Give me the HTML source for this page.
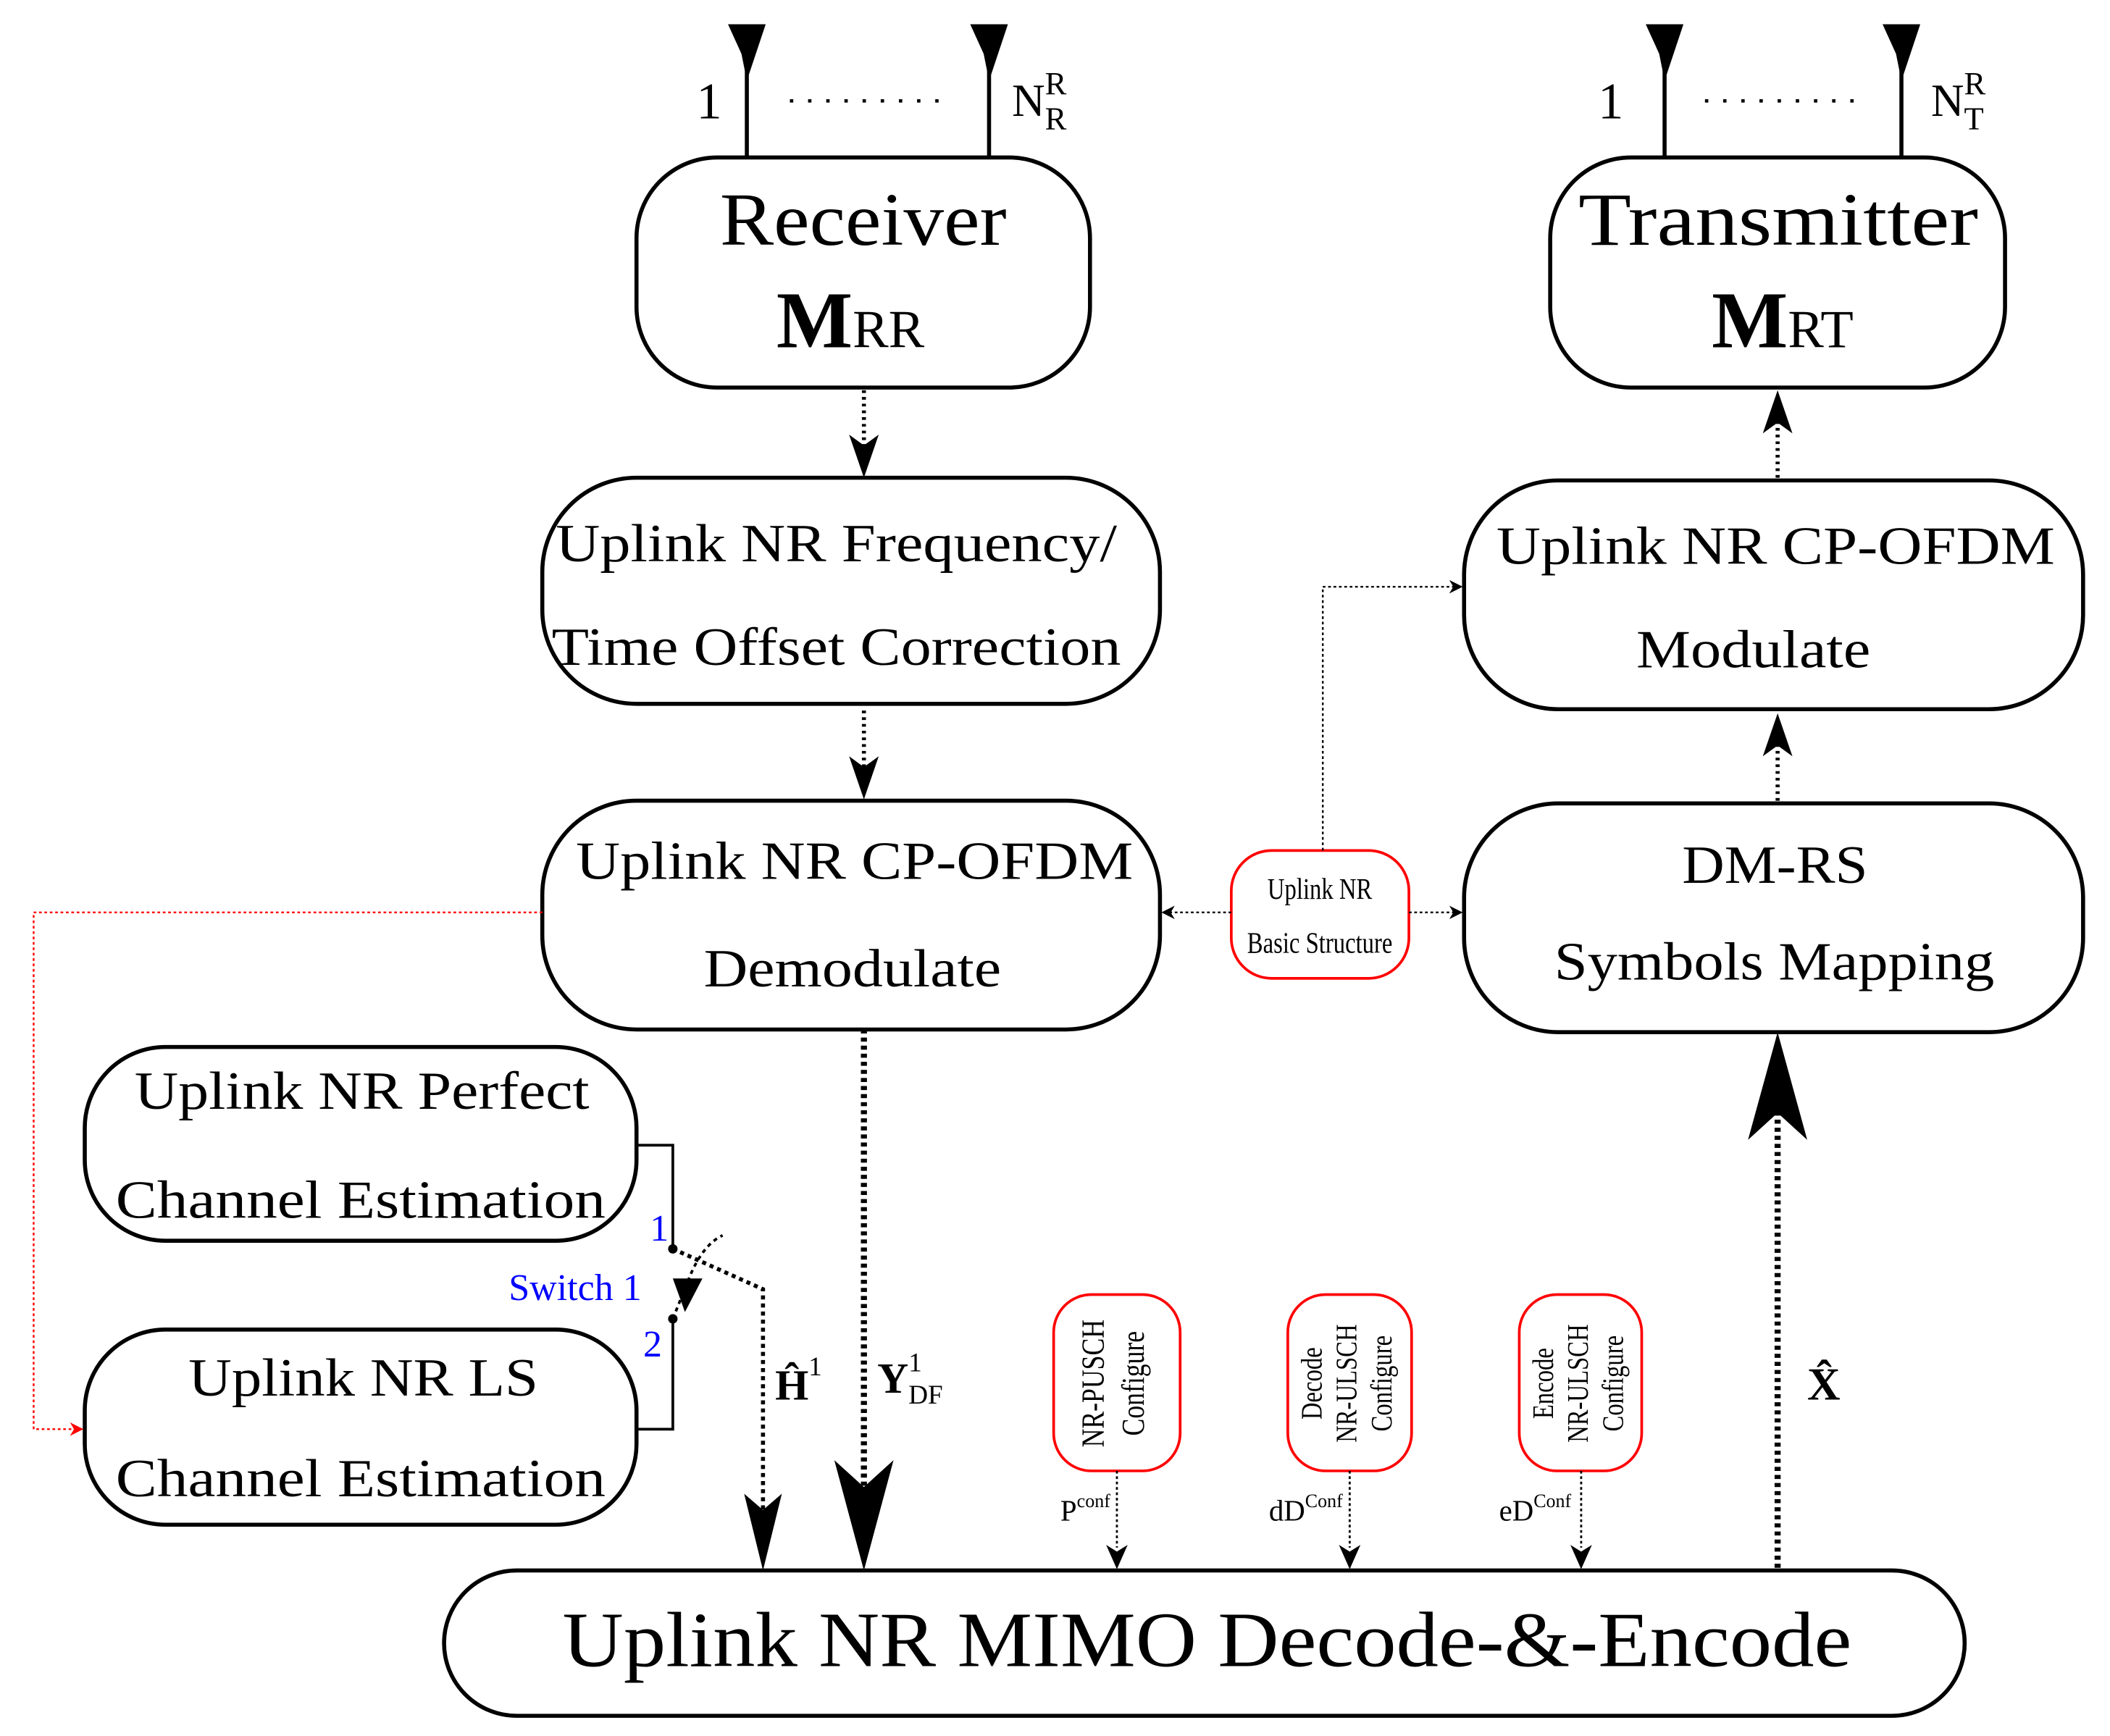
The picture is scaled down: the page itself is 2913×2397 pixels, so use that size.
<!DOCTYPE html>
<html><head><meta charset="utf-8"><style>
html,body{margin:0;padding:0;background:#fff;}
svg{display:block;}
text{font-family:"Liberation Serif",serif;}
</style></head><body>
<svg width="2913" height="2397" viewBox="0 0 1568 1290" preserveAspectRatio="none" xmlns="http://www.w3.org/2000/svg">
<defs>
<marker id="ah" markerWidth="10" markerHeight="10" refX="9" refY="5" orient="auto" markerUnits="userSpaceOnUse">
<path d="M0,0 L10,5 L0,10 L3,5 Z" fill="#000"/></marker>
<marker id="ahr" markerWidth="10" markerHeight="10" refX="9" refY="5" orient="auto" markerUnits="userSpaceOnUse">
<path d="M0,0 L10,5 L0,10 L3,5 Z" fill="red"/></marker>
</defs>
<g fill="none" stroke="#000" stroke-width="3">
<line x1="555" y1="25" x2="555" y2="117"/><line x1="735" y1="25" x2="735" y2="117"/>
<line x1="1237" y1="25" x2="1237" y2="117"/><line x1="1413" y1="25" x2="1413" y2="117"/>
<rect x="473" y="117" width="337" height="171" rx="60"/>
<rect x="1152" y="117" width="338" height="171" rx="60"/>
<rect x="403" y="355" width="459" height="168" rx="70"/>
<rect x="403" y="595" width="459" height="170" rx="70"/>
<rect x="1088" y="357" width="460" height="170" rx="70"/>
<rect x="1088" y="597" width="460" height="170" rx="70"/>
<rect x="63" y="778" width="410" height="144" rx="60"/>
<rect x="63" y="988" width="410" height="145" rx="60"/>
<rect x="330" y="1167" width="1130" height="108" rx="54"/>
<polyline points="473,851 500,851 500,928" stroke-width="2"/>
<polyline points="473,1062 500,1062 500,980" stroke-width="2"/>
</g>
<g fill="#000">
<path d="M541,18 L569,18 L555,60 L551,40 Z"/><path d="M721,18 L749,18 L735,60 L731,40 Z"/>
<path d="M1223,18 L1251,18 L1237,60 L1233,40 Z"/><path d="M1399,18 L1427,18 L1413,60 L1409,40 Z"/>
<circle cx="500" cy="928" r="3.5"/><circle cx="500" cy="980" r="3.5"/>
</g>
<g stroke="#000" stroke-width="2.5" stroke-dasharray="2.5,11" fill="none">
<line x1="587" y1="75" x2="708" y2="75"/><line x1="1267" y1="75" x2="1388" y2="75"/>
</g>
<g stroke="#000" stroke-width="3" stroke-dasharray="2,3" fill="none">
<line x1="642" y1="290" x2="642" y2="340"/>
<line x1="642" y1="528" x2="642" y2="580"/>
<line x1="1321" y1="595" x2="1321" y2="545"/>
<line x1="1321" y1="355" x2="1321" y2="305"/>
</g>
<g fill="#000">
<path d="M631,323 L642,355 L653,323 L642,331 Z"/>
<path d="M631,562 L642,594 L653,562 L642,570 Z"/>
<path d="M1310,562 L1321,530 L1332,562 L1321,554 Z"/>
<path d="M1310,322 L1321,290 L1332,322 L1321,314 Z"/>
</g>
<rect x="915" y="632" width="132" height="95" rx="30" fill="#fff" stroke="red" stroke-width="2"/>
<g stroke="#000" stroke-width="1.3" stroke-dasharray="2,2" fill="none">
<polyline points="983,632 983,436 1086,436" marker-end="url(#ah)"/>
<line x1="915" y1="678" x2="864" y2="678" marker-end="url(#ah)"/>
<line x1="1047" y1="678" x2="1086" y2="678" marker-end="url(#ah)"/>
</g>
<polyline points="403,678 25,678 25,1062 61,1062" fill="none" stroke="red" stroke-width="1.3" stroke-dasharray="2,2" marker-end="url(#ahr)"/>
<g stroke="#000" stroke-width="3" stroke-dasharray="3,3" fill="none">
<polyline points="500,928 567,958 567,1140"/>
<path d="M500,980 L512,950 Q522,925 537,918" stroke-width="2"/>
<line x1="642" y1="765" x2="642" y2="1110" stroke-width="4.5"/>
<line x1="1321" y1="1165" x2="1321" y2="820" stroke-width="4.5"/>
</g>
<path d="M500,950 L522,950 L509,975 Z" fill="#000"/>
<g fill="#000">
<path d="M553,1110 L567,1167 L581,1110 L567,1122 Z"/>
<path d="M620,1085 L642,1167 L664,1085 L642,1105 Z"/>
<path d="M1299,847 L1321,767 L1343,847 L1321,827 Z"/>
</g>
<g fill="#fff" stroke="red" stroke-width="2">
<rect x="783" y="962" width="94" height="131" rx="28"/>
<rect x="957" y="962" width="92" height="131" rx="28"/>
<rect x="1129" y="962" width="91" height="131" rx="28"/>
</g>
<g stroke="#000" stroke-width="1.5" stroke-dasharray="2,2" fill="none">
<line x1="830" y1="1093" x2="830" y2="1150"/><line x1="1003" y1="1093" x2="1003" y2="1150"/><line x1="1175" y1="1093" x2="1175" y2="1150"/>
</g>
<g fill="#000">
<path d="M822,1148 L830,1166 L838,1148 L830,1153 Z"/>
<path d="M995,1148 L1003,1166 L1011,1148 L1003,1153 Z"/>
<path d="M1167,1148 L1175,1166 L1183,1148 L1175,1153 Z"/>
</g>
<g font-size="38" fill="#000">
<text x="527" y="88" text-anchor="middle">1</text>
<text x="752" y="86" font-size="34">N<tspan font-size="24" dy="-16">R</tspan><tspan font-size="24" dx="-16" dy="26">R</tspan></text>
<text x="1197" y="88" text-anchor="middle">1</text>
<text x="1435" y="86" font-size="34">N<tspan font-size="24" dy="-16">R</tspan><tspan font-size="24" dx="-16" dy="26">T</tspan></text>
</g>
<g fill="#000" lengthAdjust="spacingAndGlyphs">
<text x="535" y="182" font-size="56" textLength="213" lengthAdjust="spacingAndGlyphs">Receiver</text>
<text x="577" y="258" font-size="60"><tspan font-weight="bold">M</tspan><tspan font-size="40">RR</tspan></text>
<text x="1173" y="182" font-size="56" textLength="297" lengthAdjust="spacingAndGlyphs">Transmitter</text>
<text x="1272" y="258" font-size="60"><tspan font-weight="bold">M</tspan><tspan font-size="40">RT</tspan></text>
</g>
<g font-size="40" fill="#000">
<text x="413" y="417" textLength="417" lengthAdjust="spacingAndGlyphs">Uplink NR Frequency/</text>
<text x="410" y="494" textLength="423" lengthAdjust="spacingAndGlyphs">Time Offset Correction</text>
<text x="428" y="653" textLength="414" lengthAdjust="spacingAndGlyphs">Uplink NR CP-OFDM</text>
<text x="523" y="733" textLength="221" lengthAdjust="spacingAndGlyphs">Demodulate</text>
<text x="1112" y="419" textLength="415" lengthAdjust="spacingAndGlyphs">Uplink NR CP-OFDM</text>
<text x="1216" y="496" textLength="174" lengthAdjust="spacingAndGlyphs">Modulate</text>
<text x="1250" y="656" textLength="138" lengthAdjust="spacingAndGlyphs">DM-RS</text>
<text x="1155" y="728" textLength="327" lengthAdjust="spacingAndGlyphs">Symbols Mapping</text>
<text x="100" y="824" textLength="338" lengthAdjust="spacingAndGlyphs">Uplink NR Perfect</text>
<text x="86" y="905" textLength="364" lengthAdjust="spacingAndGlyphs">Channel Estimation</text>
<text x="140" y="1037" textLength="260" lengthAdjust="spacingAndGlyphs">Uplink NR LS</text>
<text x="86" y="1112" textLength="364" lengthAdjust="spacingAndGlyphs">Channel Estimation</text>
<text x="418" y="1238" font-size="58" textLength="958" lengthAdjust="spacingAndGlyphs">Uplink NR MIMO Decode-&amp;-Encode</text>
</g>
<g font-size="22" text-anchor="middle" transform="scale(0.8,1)" fill="#000">
<text x="1226" y="668">Uplink NR</text>
<text x="1226" y="708">Basic Structure</text>
</g>
<g font-size="28">
<text x="483" y="922" style="fill:#0000ff">1</text>
<text x="378" y="966" style="fill:#0000ff">Switch 1</text>
<text x="478" y="1008" style="fill:#0000ff">2</text>
</g>
<g fill="#000">
<text x="576" y="1040" font-size="32" font-weight="bold">Ĥ<tspan font-size="20" font-weight="normal" dy="-18">1</tspan></text>
<text x="652" y="1035" font-size="32" font-weight="bold">Y<tspan font-size="20" font-weight="normal" dy="-16">1</tspan><tspan font-size="20" font-weight="normal" dx="-10" dy="24">DF</tspan></text>
<text x="1343" y="1040" font-size="34" font-weight="bold">X̂</text>
</g>
<g font-size="24" text-anchor="middle" fill="#000">
<text transform="translate(820,1028) rotate(-90) scale(0.8,1)">NR-PUSCH</text>
<text transform="translate(850,1028) rotate(-90) scale(0.8,1)">Configure</text>
<text transform="translate(982,1028) rotate(-90) scale(0.8,1)" font-size="22">Decode</text>
<text transform="translate(1008,1028) rotate(-90) scale(0.8,1)" font-size="22">NR-ULSCH</text>
<text transform="translate(1034,1028) rotate(-90) scale(0.8,1)" font-size="22">Configure</text>
<text transform="translate(1154,1028) rotate(-90) scale(0.8,1)" font-size="22">Encode</text>
<text transform="translate(1180,1028) rotate(-90) scale(0.8,1)" font-size="22">NR-ULSCH</text>
<text transform="translate(1206,1028) rotate(-90) scale(0.8,1)" font-size="22">Configure</text>
</g>
<g fill="#000">
<text x="788" y="1130" font-size="22">P<tspan font-size="14" dy="-10">conf</tspan></text>
<text x="943" y="1130" font-size="22">dD<tspan font-size="14" dy="-10">Conf</tspan></text>
<text x="1114" y="1130" font-size="22">eD<tspan font-size="14" dy="-10">Conf</tspan></text>
</g>
</svg>
</body></html>
